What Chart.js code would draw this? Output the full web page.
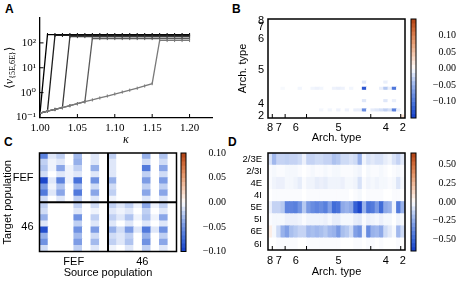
<!DOCTYPE html>
<html>
<head>
<meta charset="utf-8">
<script src="https://cdn.jsdelivr.net/npm/chart.js@4.4.1/dist/chart.umd.min.js"></script>
<style>
  html, body { margin: 0; padding: 0; background: #fff; }
  #fig { position: relative; width: 457px; height: 285px; overflow: hidden; background: #fff; }
  #fig canvas { position: absolute; left: 0; top: 0; }
  .panel { position: absolute; font: bold 12px 'Liberation Sans', Arial, sans-serif; line-height: 1; }
</style>
</head>
<body>
<div id="fig">
  <div class="panel" style="left:5px;top:3px">A</div>
  <div class="panel" style="left:232px;top:3px">B</div>
  <div class="panel" style="left:4px;top:136px">C</div>
  <div class="panel" style="left:228px;top:136px">D</div>
</div>
<script>
// ---------- data ----------
// A: mean rate of 5E/6E vs kappa, one curve per run
const kappa = [1.00, 1.01, 1.02, 1.03, 1.04, 1.05, 1.06, 1.07, 1.08, 1.09, 1.10,
               1.11, 1.12, 1.13, 1.14, 1.15, 1.16, 1.17, 1.18, 1.19, 1.20];
const kappaTicks = [1.00, 1.05, 1.10, 1.15, 1.20];
const rateTicks = [0.1, 1, 10, 100];
const rateTickLabels = ['10\u207B\u00B9', '10\u2070', '10\u00B9', '10\u00B2'];
const rate1 = [0.15, 215, 215, 215, 215, 215, 215, 215, 215, 215, 215,
               215, 215, 215, 215, 215, 215, 215, 215, 215, 215];
const rate2 = [0.15, 0.18, 200, 200, 200, 200, 200, 200, 200, 200, 200,
               200, 200, 200, 200, 200, 200, 200, 200, 200, 200];
const rate3 = [0.15, 0.18, 0.21, 0.25, 180, 180, 180, 180, 180, 180, 180,
               180, 180, 180, 180, 180, 180, 180, 180, 180, 180];
const rate4 = [0.15, 0.18, 0.21, 0.25, 0.30, 0.36, 0.43, 150, 150, 150, 150,
               150, 150, 150, 150, 150, 150, 150, 150, 150, 150];
const rate5 = [0.15, 0.18, 0.21, 0.25, 0.30, 0.36, 0.43, 0.51, 0.61, 0.73, 0.88,
               1.05, 1.25, 1.50, 1.85, 2.30, 125, 125, 125, 125, 125];

// areas sorted by architectural type
const archTypes = ['8', '7', '6', '5', '4', '2'];
const archCounts = [1, 3, 5, 15, 7, 1];

// B: area x area matrix, only non-zero cells listed [row, col, value]
const bCells = [
  [20, 22, -0.015], [20, 27, -0.01],
  [22, 3, -0.004], [22, 7, -0.006], [22, 10, -0.006], [22, 11, -0.008], [22, 12, -0.006],
  [22, 15, -0.008], [22, 16, -0.01], [22, 17, -0.008], [22, 19, -0.006], [22, 22, -0.13],
  [22, 26, -0.01], [22, 27, -0.035], [22, 28, -0.01], [22, 29, -0.10],
  [26, 22, -0.015], [26, 27, -0.015], [26, 29, -0.01],
  [29, 12, -0.005], [29, 14, -0.006], [29, 16, -0.008], [29, 18, -0.008], [29, 20, -0.01],
  [29, 21, -0.01], [29, 22, -0.08], [29, 24, -0.012], [29, 25, -0.015], [29, 26, -0.02],
  [29, 27, -0.03], [29, 28, -0.02], [29, 29, -0.09], [29, 30, -0.01],
  [31, 31, 0.025]
];
const bTicks = [0.10, 0.05, 0.00, -0.05, -0.10];

// C: population x population, FEF and 46
const popNames = ['2/3E', '2/3I', '4E', '4I', '5E', '5I', '6E', '6I'];
const cAreas = ['FEF', '46'];
const cMatrix = [
  [-0.06, -0.01, -0.02, 0, -0.03, 0, -0.01, 0, -0.02, 0, 0, 0, -0.035, 0, -0.025, 0],
  [-0.02, -0.005, -0.01, 0, -0.035, 0, -0.01, 0, -0.01, 0, 0, 0, -0.015, 0, -0.015, 0],
  [-0.025, -0.005, -0.04, -0.005, -0.02, 0, -0.035, 0, -0.01, 0, 0, 0, -0.065, 0, -0.04, 0],
  [-0.015, 0, -0.01, -0.005, -0.01, 0, -0.01, 0, -0.01, 0, 0, 0, -0.02, 0, -0.015, 0],
  [-0.095, -0.01, -0.06, -0.005, -0.07, 0, -0.05, 0, -0.035, 0, 0, 0, -0.045, 0, -0.045, 0],
  [-0.045, -0.005, -0.025, 0, -0.03, 0, -0.015, 0, -0.015, 0, 0, 0, -0.02, 0, -0.02, 0],
  [-0.065, -0.01, -0.04, 0, -0.065, 0, -0.04, 0, -0.02, 0, 0, 0, -0.04, 0, -0.04, 0],
  [-0.015, 0, -0.01, 0, -0.02, 0, -0.01, 0, -0.005, 0, 0, 0, -0.01, 0, -0.01, 0],
  [-0.02, 0, 0, 0, -0.02, 0, -0.015, 0, -0.02, -0.01, -0.02, -0.005, -0.04, -0.005, -0.02, 0],
  [-0.015, 0, 0, 0, -0.01, 0, -0.005, 0, -0.01, -0.005, -0.01, 0, -0.02, 0, -0.01, 0],
  [-0.035, 0, 0, 0, -0.05, 0, -0.02, 0, -0.02, -0.01, -0.025, -0.005, -0.025, -0.005, -0.04, 0],
  [-0.01, 0, 0, 0, -0.02, 0, -0.01, 0, -0.01, 0, -0.01, 0, -0.01, 0, -0.01, 0],
  [-0.09, 0, 0, 0, -0.05, 0, -0.045, 0, -0.035, -0.015, -0.045, -0.01, -0.065, -0.01, -0.05, 0],
  [-0.035, 0, 0, 0, -0.03, 0, -0.015, 0, -0.015, -0.01, -0.02, 0, -0.035, 0, -0.02, 0],
  [-0.05, 0, 0, 0, -0.045, 0, -0.03, 0, -0.02, -0.01, -0.025, 0, -0.05, 0, -0.04, 0],
  [-0.015, 0, 0, 0, -0.02, 0, -0.01, 0, -0.005, 0, -0.01, 0, -0.02, 0, -0.01, 0]
];
const cTicks = [0.10, 0.05, 0.00, -0.05, -0.10];

// D: population x area
const dMatrix = [
  [-0.08, -0.20, -0.12, -0.12, -0.13, -0.12, -0.12, -0.10, -0.04, -0.12, -0.12, -0.10, -0.10, -0.12, -0.12, -0.17,
   -0.15, -0.10, -0.10, -0.08, -0.10, -0.22, -0.03, -0.08, -0.06, -0.08, -0.08, -0.05, -0.03, -0.08, -0.12, -0.06],
  [-0.01, -0.02, -0.01, -0.01, -0.02, -0.02, -0.02, -0.01, 0, -0.01, -0.02, -0.01, -0.01, -0.02, -0.01, -0.02,
   -0.02, -0.01, -0.01, -0.01, -0.02, -0.03, 0, -0.02, -0.01, -0.01, -0.02, -0.01, 0, -0.01, -0.02, -0.01],
  [-0.01, -0.03, -0.04, -0.04, -0.02, -0.02, -0.03, -0.05, -0.01, -0.03, -0.03, -0.05, -0.04, -0.05, -0.03, -0.03,
   -0.03, -0.04, -0.02, -0.02, -0.03, -0.08, -0.01, -0.03, -0.02, -0.03, -0.02, -0.02, -0.01, -0.02, -0.07, -0.02],
  [0, -0.01, -0.01, -0.01, -0.01, -0.01, -0.01, -0.01, 0, -0.01, -0.01, -0.01, -0.01, -0.01, -0.01, -0.01,
   -0.01, -0.01, -0.01, 0, -0.01, -0.02, 0, -0.01, -0.01, -0.01, -0.01, 0, 0, -0.01, -0.01, 0],
  [-0.04, -0.12, -0.12, -0.15, -0.38, -0.38, -0.40, -0.32, -0.15, -0.30, -0.35, -0.38, -0.35, -0.40, -0.28, -0.48,
   -0.45, -0.25, -0.22, -0.25, -0.52, -0.62, -0.22, -0.45, -0.42, -0.30, -0.48, -0.25, -0.22, -0.03, -0.42, -0.22],
  [-0.01, -0.02, -0.02, -0.02, -0.04, -0.04, -0.04, -0.03, -0.01, -0.03, -0.03, -0.03, -0.03, -0.04, -0.02, -0.05,
   -0.05, -0.02, -0.02, -0.02, -0.05, -0.06, -0.01, -0.04, -0.03, -0.02, -0.04, -0.02, -0.02, 0, -0.03, -0.02],
  [0.06, -0.02, -0.10, -0.22, -0.28, -0.18, -0.15, -0.12, -0.12, -0.20, -0.18, -0.20, -0.18, -0.15, -0.20, -0.22,
   -0.30, -0.18, -0.15, -0.10, -0.28, -0.32, -0.04, -0.35, -0.22, -0.20, -0.25, -0.10, -0.06, -0.02, -0.20, -0.10],
  [0, 0, -0.01, -0.01, -0.01, -0.01, -0.01, 0, 0, -0.01, -0.01, -0.01, -0.01, -0.01, -0.01, -0.01,
   -0.01, 0, 0, 0, -0.01, -0.01, 0, -0.01, -0.01, 0, -0.01, 0, 0, 0, -0.01, 0]
];
const dTicks = [0.50, 0.25, 0.00, -0.25, -0.50];

// ---------- style ----------
const W = 457, H = 285;
const SANS = "'Liberation Sans', Arial, sans-serif";
const SERIF = "'Liberation Serif', 'DejaVu Serif', serif";
const lineGreys = ['#000000', '#1e1e1e', '#3a3a3a', '#5a5a5a', '#7a7a7a'];
const cmapStops = [
  [-1.00, [20, 62, 200]],
  [-0.75, [62, 106, 216]],
  [-0.50, [112, 146, 226]],
  [-0.25, [176, 196, 240]],
  [0.00, [255, 255, 255]],
  [0.25, [246, 208, 186]],
  [0.50, [232, 162, 122]],
  [0.75, [212, 112, 62]],
  [1.00, [176, 64, 18]]
];

Chart.defaults.color = '#000';
Chart.defaults.font.family = SANS;
Chart.defaults.font.size = 11;
Chart.defaults.animation = false;
Chart.defaults.plugins.legend.display = false;
Chart.defaults.plugins.tooltip.enabled = false;

function cmap(t) {
  t = Math.max(-1, Math.min(1, t));
  for (let i = 1; i < cmapStops.length; i++) {
    const [t1, c1] = cmapStops[i];
    if (t <= t1) {
      const [t0, c0] = cmapStops[i - 1];
      const f = (t - t0) / (t1 - t0);
      return 'rgb(' + c0.map((v, k) => Math.round(v + f * (c1[k] - v))).join(',') + ')';
    }
  }
  return 'rgb(176,64,18)';
}

function fmt(v) {
  return (v < 0 ? '\u2212' : '') + Math.abs(v).toFixed(2);
}

function newCanvas() {
  const c = document.createElement('canvas');
  c.width = W;
  c.height = H;
  document.getElementById('fig').appendChild(c);
  return c;
}

// fixed axis size so that the plot boxes land where they should
function fixSize(size) {
  return (s) => {
    if (s.isHorizontal()) s.height = size;
    else s.width = size;
    s.paddingLeft = s.paddingRight = s.paddingTop = s.paddingBottom = 0;
  };
}

// frame, block dividers and inward tick marks
const decor = {
  id: 'decor',
  afterDatasetsDraw(chart, args, o) {
    const { ctx, chartArea: a, scales } = chart;
    const len = o.markLen || 4;
    ctx.save();
    ctx.strokeStyle = '#000';
    ctx.lineWidth = 1;
    (o.xMarks || []).forEach((v) => {
      const px = scales.x.getPixelForValue(v);
      ctx.beginPath();
      ctx.moveTo(px, a.bottom);
      ctx.lineTo(px, a.bottom - len);
      ctx.stroke();
    });
    (o.yMarks || []).forEach((v) => {
      const py = scales.y.getPixelForValue(v);
      ctx.beginPath();
      ctx.moveTo(a.left, py);
      ctx.lineTo(a.left + len, py);
      ctx.stroke();
    });
    ctx.lineWidth = o.lineWidth || 2;
    (o.xLines || []).forEach((v) => {
      const px = scales.x.getPixelForValue(v);
      ctx.beginPath();
      ctx.moveTo(px, a.top);
      ctx.lineTo(px, a.bottom);
      ctx.stroke();
    });
    (o.yLines || []).forEach((v) => {
      const py = scales.y.getPixelForValue(v);
      ctx.beginPath();
      ctx.moveTo(a.left, py);
      ctx.lineTo(a.right, py);
      ctx.stroke();
    });
    if (o.frame) {
      ctx.lineWidth = o.frameWidth || 1.5;
      ctx.strokeRect(a.left, a.top, a.right - a.left, a.bottom - a.top);
    }
    ctx.restore();
  }
};

// y label of A with a small subscript
const rateLabel = {
  id: 'rateLabel',
  afterDraw(chart) {
    const { ctx, chartArea: a } = chart;
    const parts = [
      { t: '\u27E8', size: 12, dy: 0, style: 'normal' },
      { t: '\u03BD', size: 12, dy: 0, style: 'italic' },
      { t: '{5E,6E}', size: 8, dy: 3, style: 'normal' },
      { t: '\u27E9', size: 12, dy: 0, style: 'normal' }
    ];
    ctx.save();
    ctx.translate(10, (a.top + a.bottom) / 2);
    ctx.rotate(-Math.PI / 2);
    let total = 0;
    parts.forEach((p) => {
      ctx.font = p.style + ' ' + p.size + 'px ' + SERIF;
      p.w = ctx.measureText(p.t).width;
      total += p.w;
    });
    let x = -total / 2;
    ctx.textBaseline = 'middle';
    ctx.fillStyle = '#000';
    parts.forEach((p) => {
      ctx.font = p.style + ' ' + p.size + 'px ' + SERIF;
      ctx.fillText(p.t, x, p.dy);
      x += p.w;
    });
    ctx.restore();
  }
};

// ======== A: rate vs kappa ========
const rateSeries = [rate1, rate2, rate3, rate4, rate5];
new Chart(newCanvas(), {
  type: 'line',
  data: {
    datasets: rateSeries.map((vals, i) => ({
      data: kappa.map((k, j) => ({ x: k, y: vals[j] })),
      borderColor: lineGreys[i],
      backgroundColor: lineGreys[i],
      borderWidth: 1.3,
      pointStyle: 'line',
      pointRotation: 90,
      pointRadius: 1.6,
      pointBorderWidth: 1,
      pointBorderColor: lineGreys[i],
      order: rateSeries.length - i
    }))
  },
  options: {
    responsive: false,
    layout: { padding: { left: 0, top: 18, right: W - 212, bottom: H - 117.5 - 30 } },
    plugins: { decor: { xMarks: kappaTicks, yMarks: rateTicks, markLen: 3.5 } },
    scales: {
      x: {
        type: 'linear', min: 1.0, max: 1.23,
        afterBuildTicks: (s) => { s.ticks = kappaTicks.map((v) => ({ value: v })); },
        afterFit: fixSize(30),
        grid: { display: false, drawTicks: false },
        border: { display: true, color: '#000', width: 1.3 },
        ticks: { font: { family: SERIF, size: 11 }, padding: 4, autoSkip: false, maxRotation: 0,
                 callback: (v) => Number(v).toFixed(2) },
        title: { display: true, text: '\u03BA', font: { family: SERIF, size: 12, style: 'italic' },
                 padding: { top: 0, bottom: 0 } }
      },
      y: {
        type: 'logarithmic', min: 0.1, max: 1000,
        afterBuildTicks: (s) => { s.ticks = rateTicks.map((v) => ({ value: v })); },
        afterFit: fixSize(40),
        grid: { display: false, drawTicks: false },
        border: { display: true, color: '#000', width: 1.3 },
        ticks: { font: { family: SERIF, size: 11 }, padding: 4, autoSkip: false,
                 callback: (v, i) => rateTickLabels[i] }
      }
    }
  },
  plugins: [decor, rateLabel]
});

// ======== heatmaps ========
function heatChart(cfg) {
  const [L, T, R, B] = cfg.box;
  const cells = [];
  cfg.matrix.forEach((row, r) => row.forEach((v, c) => cells.push({ x: c + 0.5, y: [r, r + 1], v })));
  return new Chart(newCanvas(), {
    type: 'bar',
    data: {
      datasets: [{
        data: cells,
        backgroundColor: (ctx) => (ctx.raw ? cmap(ctx.raw.v / cfg.vmax) : '#fff'),
        borderWidth: 0,
        barPercentage: 1,
        categoryPercentage: 1
      }]
    },
    options: {
      responsive: false,
      layout: { padding: { left: L - cfg.yw, top: T, right: W - R, bottom: H - B - cfg.xh } },
      plugins: { decor: { frame: true, frameWidth: 1.5, xMarks: cfg.xMarks || [],
                          xLines: cfg.xLines || [], yLines: cfg.yLines || [], markLen: 4 } },
      scales: {
        x: {
          type: 'linear', min: 0, max: cfg.matrix[0].length, offset: false,
          afterBuildTicks: (s) => { s.ticks = cfg.xTicks.map((v) => ({ value: v })); },
          afterFit: fixSize(cfg.xh),
          grid: { display: false, drawTicks: false },
          border: { display: false },
          ticks: { autoSkip: false, maxRotation: 0, padding: cfg.xPad, font: { size: cfg.xFont || 11 },
                   callback: (v, i) => cfg.xLabels[i] },
          title: { display: !!cfg.xTitle, text: cfg.xTitle || '', font: { size: 11 },
                   padding: { top: 0, bottom: cfg.xTitlePad || 0 } }
        },
        y: {
          type: 'linear', min: 0, max: cfg.matrix.length, reverse: true,
          afterBuildTicks: (s) => { s.ticks = cfg.yTicks.map((v) => ({ value: v })); },
          afterFit: fixSize(cfg.yw),
          grid: { display: false, drawTicks: false },
          border: { display: false },
          ticks: { autoSkip: false, padding: cfg.yPad, font: { size: cfg.yFont || 11 },
                   callback: (v, i) => cfg.yLabels[i] },
          title: { display: !!cfg.yTitle, text: cfg.yTitle || '', font: { size: 11 },
                   padding: { top: cfg.yTitlePad || 0, bottom: 0 } }
        }
      }
    },
    plugins: [decor]
  });
}

function colorBar(cfg) {
  const [L, T, R, B] = cfg.box;
  const n = 24;
  const step = (2 * cfg.vmax) / n;
  const bins = [];
  for (let i = 0; i < n; i++) {
    const lo = -cfg.vmax + i * step;
    bins.push({ x: 0.5, y: [lo, lo + step], v: lo + step / 2 });
  }
  return new Chart(newCanvas(), {
    type: 'bar',
    data: {
      datasets: [{
        data: bins,
        backgroundColor: (ctx) => (ctx.raw ? cmap(ctx.raw.v / cfg.vmax) : '#fff'),
        borderWidth: 0,
        barPercentage: 1,
        categoryPercentage: 1
      }]
    },
    options: {
      responsive: false,
      layout: { padding: { left: L, top: T, right: W - R - 40, bottom: H - B } },
      plugins: { decor: { frame: true, frameWidth: 1 } },
      scales: {
        x: {
          type: 'linear', min: 0, max: 1, display: false, offset: false,
          afterBuildTicks: (s) => { s.ticks = [{ value: 0 }, { value: 1 }]; }
        },
        y: {
          type: 'linear', position: 'right', min: -cfg.vmax, max: cfg.vmax,
          afterBuildTicks: (s) => { s.ticks = cfg.ticks.map((v) => ({ value: v })); },
          afterFit: fixSize(40),
          grid: { display: false, drawTicks: false },
          border: { display: false },
          ticks: { autoSkip: false, padding: cfg.pad, crossAlign: 'far',
                   font: { family: SERIF, size: 10 }, callback: (v) => fmt(v) }
        }
      }
    },
    plugins: [decor]
  });
}

// group centres and boundaries along the area axis
const groupStarts = archCounts.map((n, i) => archCounts.slice(0, i).reduce((a, b) => a + b, 0));
const groupCentres = archCounts.map((n, i) => groupStarts[i] + n / 2);
const groupBounds = groupStarts.slice(1);
const nAreas = archCounts.reduce((a, b) => a + b, 0);

// ======== B ========
const bMatrix = Array.from({ length: nAreas }, () => Array(nAreas).fill(0));
bCells.forEach(([r, c, v]) => { bMatrix[r][c] = v; });
heatChart({
  matrix: bMatrix, vmax: 0.15, box: [268, 19, 405, 118], yw: 32, xh: 28,
  xTicks: groupCentres, xLabels: archTypes, xMarks: groupBounds, xPad: 3.5,
  yTicks: groupCentres, yLabels: archTypes, yPad: 4,
  xTitle: 'Arch. type', xTitlePad: 1, yTitle: 'Arch. type', yTitlePad: 0
});
colorBar({ box: [411, 19, 416, 118], vmax: 0.15, ticks: bTicks, pad: 5 });

// ======== C ========
heatChart({
  matrix: cMatrix, vmax: 0.10, box: [39.5, 153, 176.5, 251.5], yw: 39.5, xh: 30,
  xTicks: [4, 12], xLabels: cAreas, xPad: 4,
  yTicks: [4, 12], yLabels: cAreas, yPad: 6,
  xLines: [8], yLines: [8],
  xTitle: 'Source population', xTitlePad: 2.2, yTitle: 'Target population', yTitlePad: 1.4
});
colorBar({ box: [181, 153, 186, 251.5], vmax: 0.10, ticks: cTicks, pad: 4 });

// ======== D ========
heatChart({
  matrix: dMatrix, vmax: 0.65, box: [268, 153, 405, 250], yw: 30, xh: 30,
  xTicks: groupCentres, xLabels: archTypes, xMarks: groupBounds, xPad: 4.5,
  yTicks: popNames.map((p, i) => i + 0.5), yLabels: popNames, yPad: 6, yFont: 9.5,
  xTitle: 'Arch. type', xTitlePad: 1.7
});
colorBar({ box: [411, 153, 416, 251], vmax: 0.65, ticks: dTicks, pad: 5 });
</script>
</body>
</html>
